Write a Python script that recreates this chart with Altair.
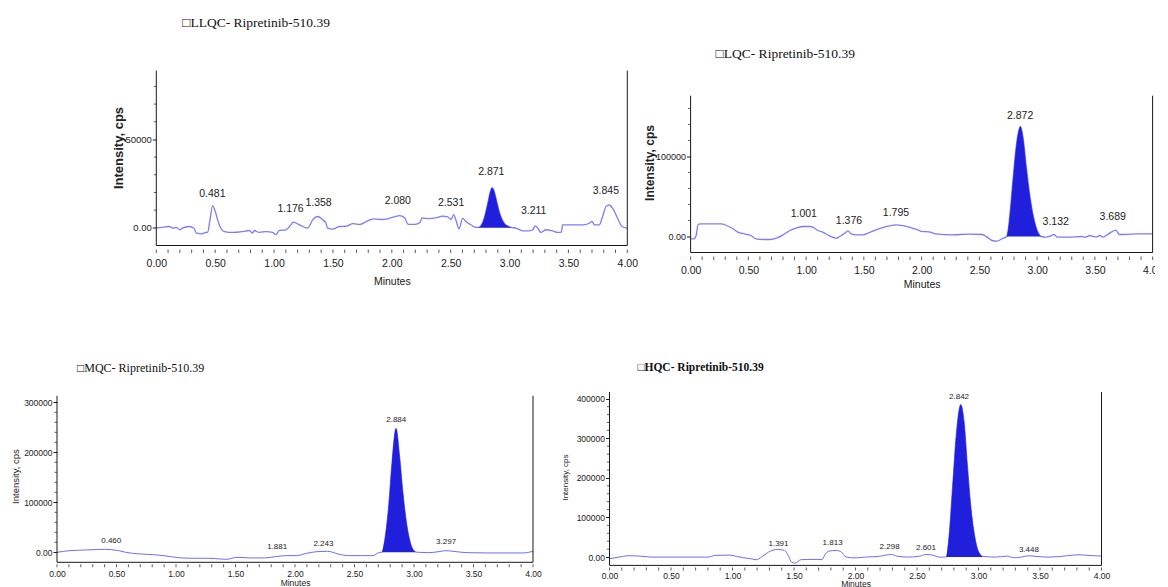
import altair as alt
import pandas as pd

# ---------------- data (time in min, intensity in kcps) ----------------
# LLQC
tl_base_t = [0.00, 0.05, 0.11, 0.14, 0.17, 0.20, 0.22, 0.28, 0.32, 0.34, 0.39, 0.42, 0.436, 0.456, 0.478,
             0.501, 0.521, 0.541, 0.578, 0.648, 0.733, 0.79, 0.818, 0.832, 0.875, 0.931, 0.988, 1.016,
             1.045, 1.101, 1.144, 1.163, 1.20, 1.243, 1.285, 1.328, 1.37, 1.407, 1.441, 1.455, 1.497,
             1.554, 1.613, 1.671, 1.73, 1.788, 1.847, 1.905, 1.964, 2.022, 2.066, 2.11, 2.139, 2.197,
             2.241, 2.256, 2.314, 2.373, 2.431, 2.475, 2.504, 2.525, 2.548, 2.571, 2.602, 2.63, 2.672,
             2.715, 3.055, 3.111, 3.168, 3.196, 3.219, 3.239, 3.267, 3.31, 3.366, 3.408, 3.44, 3.451,
             3.536, 3.621, 3.677, 3.70, 3.72, 3.762, 3.79, 3.819, 3.847, 3.876, 3.918, 3.955, 4.00]
tl_base_i = [0.0, 0.3, 0.75, -0.2, 0.2, -1.1, -0.2, 0.75, -0.2, -3.0, -3.4, -2.6, -2.6, 4.5, 12.4,
             9.2, 4.5, 0.75, -2.1, -2.6, -2.1, -1.5, -3.0, -1.5, -2.6, -2.1, -2.6, -3.9,
             -1.5, -1.1, 1.7, 3.2, 2.2, 0.75, -0.2, 4.5, 6.4, 4.9, 2.6, -0.2, -0.75,
             0.75, 0.9, 2.4, 1.9, 3.7, 5.1, 4.7, 5.1, 6.2, 6.9, 5.6, 1.9, 1.9,
             3.2, 5.6, 5.2, 5.6, 6.6, 6.2, 4.7, 7.5, 3.7, -0.6, 5.4, 3.6, 1.7,
             0.2, -0.2, -1.7, -1.7, -1.1, 1.1, -0.2, -2.6, -1.1, -1.7, -2.6, -2.4, 1.7,
             1.7, 1.7, 2.6, 3.6, 1.7, 1.7, 6.4, 12.0, 12.9, 11.0, 5.4, 0.75, -0.2]
tl_peak_t = [2.737, 2.76, 2.78, 2.80, 2.82, 2.835, 2.851, 2.865, 2.88, 2.90, 2.92, 2.94, 2.96, 2.985, 3.012]
tl_peak_i = [0.2, 1.5, 4.5, 9.5, 15.5, 20.0, 22.7, 21.5, 18.0, 12.5, 7.5, 4.2, 2.2, 1.0, 0.3]
tl_lab_t = [0.476, 1.140, 1.378, 2.051, 2.504, 2.845, 3.205, 3.818]
tl_lab_i = [19.0, 10.4, 13.8, 14.9, 14.0, 31.8, 9.3, 21.1]
tl_lab_txt = ["0.481", "1.176", "1.358", "2.080", "2.531", "2.871", "3.211", "3.845"]

# LQC
tr_base_t = [0.00, 0.028, 0.048, 0.065, 0.085, 0.268, 0.31, 0.367, 0.409, 0.466, 0.522, 0.565, 0.636,
             0.692, 0.748, 0.805, 0.861, 0.918, 0.975, 1.031, 1.059, 1.102, 1.144, 1.20, 1.262, 1.29,
             1.334, 1.362, 1.391, 1.434, 1.491, 1.549, 1.606, 1.663, 1.721, 1.778, 1.835, 1.893, 1.95,
             2.007, 2.065, 2.122, 2.266, 2.409, 2.525, 2.568, 2.61, 2.653, 2.695, 3.076, 3.119, 3.147,
             3.175, 3.274, 3.387, 3.415, 3.458, 3.486, 3.514, 3.542, 3.571, 3.599, 3.641, 3.683, 3.712,
             3.754, 3.867, 4.00]
tr_base_i = [-2.9, -2.9, 1.25, 15.0, 15.8, 15.8, 13.75, 9.6, 5.4, 3.3, 1.25, -2.9, -3.75,
             -3.75, -1.7, 2.5, 7.5, 10.8, 12.5, 12.5, 11.7, 7.5, 5.4, 1.0, -2.1, 0.0,
             4.1, 7.0, 3.3, 2.1, 2.1, 5.0, 8.3, 11.2, 13.2, 14.5, 13.6, 11.6, 9.1,
             6.2, 5.8, 3.3, 2.1, 2.9, 2.5, -0.8, -5.0, -5.8, -2.9, -0.8, 0.8, 2.5,
             -0.8, -0.8, 0.0, -0.8, 1.25, 0.0, -0.8, 1.25, -0.8, 1.25, 5.4, 7.9, 2.5,
             2.5, 3.3, 3.3]
tr_peak_t = [2.737, 2.75, 2.765, 2.793, 2.822, 2.856, 2.878, 2.907, 2.935, 2.963, 2.991, 3.012, 3.034]
tr_peak_i = [0.0, 9.0, 28.3, 74.0, 115.8, 137.5, 124.0, 86.7, 53.3, 28.3, 11.7, 4.0, 0.0]
tr_lab_t = [0.980, 1.371, 1.778, 2.853, 3.161, 3.655]
tr_lab_i = [28.5, 19.8, 29.8, 151.0, 17.9, 24.0]
tr_lab_txt = ["1.001", "1.376", "1.795", "2.872", "3.132", "3.689"]

# MQC
bl_base_t = [0.00, 0.108, 0.255, 0.401, 0.518, 0.577, 0.694, 0.811, 0.898, 1.045, 1.162, 1.279, 1.367,
             1.425, 1.513, 1.63, 1.747, 1.835, 1.923, 2.011, 2.098, 2.186, 2.274, 2.362, 2.45, 2.548,
             2.654, 2.713, 3.123, 3.21, 3.269, 3.328, 3.445, 3.62, 3.913, 4.00]
bl_base_i = [0.0, 3.3, 4.7, 6.0, 3.3, 0.0, -3.3, -4.7, -6.7, -11.3, -12.0, -12.0, -13.3,
             -14.0, -10.0, -11.3, -11.3, -8.7, -6.7, -6.7, -2.0, 1.3, 2.0, -3.3, -6.7, -6.7,
             -6.7, 0.0, -0.7, 1.3, 3.3, 2.0, -0.7, -1.3, -1.3, 2.0]
bl_peak_t = [2.731, 2.759, 2.787, 2.815, 2.849, 2.879, 2.907, 2.941, 2.969, 3.011, 3.035]
bl_peak_i = [0.0, 33.3, 93.3, 180.0, 248.0, 193.0, 120.0, 53.3, 20.0, 1.3, 0.0]
bl_lab_t = [0.456, 1.850, 2.239, 2.851, 3.270]
bl_lab_i = [22.0, 11.3, 16.7, 265.0, 21.0]
bl_lab_txt = ["0.460", "1.881", "2.243", "2.884", "3.297"]

# HQC
br_base_t = [0.00, 0.078, 0.15, 0.281, 0.339, 0.541, 0.801, 0.859, 0.975, 1.033, 1.091, 1.149, 1.192,
             1.236, 1.293, 1.366, 1.424, 1.453, 1.481, 1.51, 1.554, 1.612, 1.727, 1.756, 1.785, 1.843,
             1.887, 1.915, 1.959, 2.017, 2.075, 2.19, 2.248, 2.292, 2.335, 2.422, 2.509, 2.581, 2.624,
             2.682, 2.726, 3.145, 3.232, 3.29, 3.348, 3.406, 3.464, 3.579, 3.724, 3.811, 3.898, 4.00]
br_base_i = [-4.2, 0.0, 3.4, 1.7, 0.0, 0.0, 0.0, 4.2, 5.1, 1.7, -1.7, -4.2, -6.7,
             0.0, 12.6, 19.4, 16.8, 4.2, -12.6, -15.2, -6.7, -5.9, -5.9, 8.4, 15.2, 16.8,
             12.6, 1.7, -1.7, -1.7, 0.0, 1.7, 5.1, 6.7, 2.5, 0.0, 1.7, 6.7, 5.1,
             0.0, 0.0, 0.0, 2.5, -1.7, 0.0, 3.4, 1.7, 0.0, 3.4, 5.9, 4.2, 2.5]
br_peak_t = [2.739, 2.761, 2.788, 2.821, 2.856, 2.883, 2.91, 2.937, 2.964, 2.992, 3.033]
br_peak_i = [0.0, 54.9, 173.0, 316.0, 385.6, 341.8, 232.0, 130.8, 63.3, 21.0, 1.7]
br_lab_t = [1.374, 1.814, 2.277, 2.573, 2.842, 3.410]
br_lab_i = [33.7, 36.2, 25.3, 23.5, 404.0, 16.7]
br_lab_txt = ["1.391", "1.813", "2.298", "2.601", "2.842", "3.448"]

titles = ["\u25a1LLQC- Ripretinib-510.39", "\u25a1LQC- Ripretinib-510.39",
          "\u25a1MQC- Ripretinib-510.39", "\u25a1HQC- Ripretinib-510.39"]
x_major = [0.0, 0.5, 1.0, 1.5, 2.0, 2.5, 3.0, 3.5, 4.0]
x_all = [round(0.1 * k, 1) for k in range(41)]
tl_ymajor, tl_yminor = [0, 50000], [10000, 20000, 30000, 40000, 60000, 70000, 80000]
tr_ymajor, tr_yminor = [0, 100000], [20000, 40000, 60000, 80000, 120000, 140000, 160000]
bl_ymajor = [0, 100000, 200000, 300000]
bl_yminor = [v for v in range(20000, 300000, 20000) if v % 100000]
br_ymajor = [0, 100000, 200000, 300000, 400000]
br_yminor = [v for v in range(20000, 400000, 20000) if v % 100000]

# ---------------- styling ----------------
FILL = "#2020dc"
SANS = "Liberation Sans, Arial, sans-serif"
SERIF = "Liberation Serif, Times New Roman, serif"
INK = "#1a1a1a"


def panel(bt, bi, pt, pi, lt, li, ltxt, ymaj, ymin_ticks, title, s):
    trace = pd.DataFrame({"t": bt + pt, "i": [v * 1000 for v in bi + pi]}).sort_values("t")
    peak = pd.DataFrame({"t": pt, "i": [v * 1000 for v in pi]})
    labs = pd.DataFrame({"t": lt, "i": [v * 1000 for v in li], "txt": ltxt})
    xt = pd.DataFrame({"v": x_all})
    yt = pd.DataFrame({"v": ymin_ticks})
    one = pd.DataFrame({"a": [0]})
    ymin, ymax = s["ydom"]
    yvis = s["yvis"]
    xaxis = alt.Axis(values=x_major, title="Minutes", domain=False, ticks=False, offset=s["xoff"],
                     labelExpr="format(datum.value, '.2f')",
                     labelFont=SANS, labelFontSize=s["lsize"], labelColor=INK, labelPadding=s["lpad"],
                     labelOverlap=False, labelFlush=False, labelBound=False,
                     titleFont=SANS, titleFontSize=s["tsize"], titleFontWeight="normal",
                     titleColor=INK, titlePadding=s["tpad"], grid=False)
    yaxis = alt.Axis(values=ymaj, labelExpr="datum.value == 0 ? '0.00' : format(datum.value, 'd')",
                     title="Intensity, cps", titleX=s["titleX"], titleY=s["titleY"], titleAngle=270,
                     titleAlign="center", titleBaseline="middle", titleFont=SANS, titleFontSize=s["ytsize"],
                     titleFontWeight=s["ytweight"], titleColor="#222", minExtent=s["minext"], domain=False,
                     tickSize=4, tickColor=INK, labelFont=SANS, labelFontSize=s["ylsize"], labelColor=INK,
                     labelPadding=1, labelOverlap=False, grid=False)
    xs = alt.Scale(domain=[0, 4], nice=False, zero=False)
    ys = alt.Scale(domain=[ymin, ymax], nice=False, zero=False)
    line = alt.Chart(trace).mark_line(color=s["lcolor"], strokeWidth=s["lw"], interpolate="monotone").encode(
        x=alt.X("t:Q", scale=xs, axis=xaxis), y=alt.Y("i:Q", scale=ys, axis=yaxis))
    area = alt.Chart(peak).mark_area(color=FILL, interpolate="monotone").encode(
        x="t:Q", y="i:Q", y2=alt.datum(0))
    text = alt.Chart(labs).mark_text(font=SANS, fontSize=s["psize"], color="#222", baseline="middle").encode(
        x="t:Q", y="i:Q", text="txt:N")
    xticks = alt.Chart(xt).mark_tick(orient="vertical", size=s["xtick"], thickness=1, color=INK,
                                     yOffset=s["xoff"] + s["xtick"] / 2).encode(x="v:Q", y=alt.datum(ymin))
    yticks = alt.Chart(yt).mark_tick(orient="horizontal", size=2.5, thickness=1, color=INK,
                                     xOffset=-1.25).encode(y="v:Q", x=alt.datum(0))
    bottom = alt.Chart(one).mark_rule(color=INK, strokeWidth=1).encode(y=alt.datum(ymin))
    left = alt.Chart(one).mark_rule(color=INK, strokeWidth=1).encode(
        x=alt.datum(0), y=alt.datum(ymin), y2=alt.datum(yvis))
    right = alt.Chart(one).mark_rule(color=INK, strokeWidth=1).encode(
        x=alt.datum(4.0), y=alt.datum(ymin), y2=alt.datum(yvis))
    return alt.layer(line, area, text, xticks, yticks, bottom, left, right).properties(
        width=s["w"], height=s["h"],
        title=alt.TitleParams(text=title, anchor="start", frame="group", dx=s["tdx"], offset=s["toff"],
                              font=SERIF, fontSize=s["tfs"], fontWeight=s["tfw"], color="#111",
                              baseline="bottom", lineHeight=14))


top_common = dict(lsize=10.5, tsize=10.5, xoff=4, xtick=3.5, lpad=8.5,
                  psize=10.5, lcolor="#7c7cfa", lw=1.3, ytweight="bold",
                  tfs=13.5, tfw="normal")
bot_common = dict(lsize=8.5, ylsize=8.5, tsize=8.5, xoff=2, xtick=3,
                  psize=8, lcolor="#6e6ef5", lw=1.0, ytweight="normal")

TL = panel(tl_base_t, tl_base_i, tl_peak_t, tl_peak_i, tl_lab_t, tl_lab_i, tl_lab_txt, tl_ymajor, tl_yminor,
           titles[0],
           dict(top_common, ydom=(-10000, 89000), yvis=89000, w=471, h=175, titleX=-38, titleY=77,
                minext=46, tpad=8.4, tdx=26, toff=26.5, ytsize=13, ylsize=9.5))
TR = panel(tr_base_t, tr_base_i, tr_peak_t, tr_peak_i, tr_lab_t, tr_lab_i, tr_lab_txt, tr_ymajor, tr_yminor,
           titles[1],
           dict(top_common, ydom=(-20000, 207500), yvis=176000, w=462, h=182, titleX=-41.5, titleY=92,
                minext=48, tpad=4.4, tdx=25, toff=-3.5, ytsize=12, ylsize=9))
BL = panel(bl_base_t, bl_base_i, bl_peak_t, bl_peak_i, bl_lab_t, bl_lab_i, bl_lab_txt, bl_ymajor, bl_yminor,
           titles[2],
           dict(bot_common, ydom=(-20000, 320600), yvis=313000, w=476, h=170.3, titleX=-42, titleY=84,
                minext=49, lpad=5.5, tpad=0.5, tdx=20, toff=5.5, ytsize=9.5, tfs=12, tfw="normal"))
BR = panel(br_base_t, br_base_i, br_peak_t, br_peak_i, br_lab_t, br_lab_i, br_lab_txt, br_ymajor, br_yminor,
           titles[3],
           dict(bot_common, ydom=(-21000, 417000), yvis=417000, w=492, h=173.4, titleX=-44, titleY=85,
                minext=48, lpad=3.8, tpad=0, tdx=28, toff=7, ytsize=8, tfs=11.5, tfw="bold"))

spacer = alt.Chart(pd.DataFrame({"a": [0]})).mark_text(text="").properties(width=48.2, height=1)

row1 = alt.hconcat(spacer, TL, TR, spacing=4.3)
row2 = alt.hconcat(BL, BR, spacing=19.5)
chart = alt.vconcat(row1, row2, spacing=70.5).properties(
    padding={"left": 0, "top": 7.5, "right": -8, "bottom": 0}
).configure_view(stroke=None)

chart.save("out.html", embed_options={"renderer": "svg", "actions": False})
